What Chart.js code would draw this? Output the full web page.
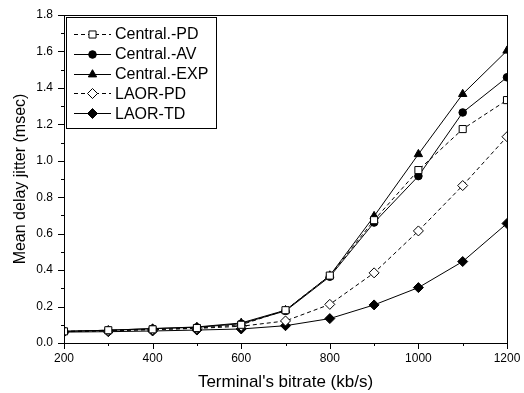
<!DOCTYPE html>
<html>
<head>
<meta charset="utf-8">
<script src="https://cdn.jsdelivr.net/npm/chart.js@4/dist/chart.umd.min.js"></script>
<style>
html,body{margin:0;padding:0;background:#fff;}
#wrap{width:524px;height:393px;position:relative;}
</style>
</head>
<body>
<div id="wrap"><canvas id="c" width="524" height="393"></canvas></div>
<script>
const bitrates = [200, 300, 400, 500, 600, 700, 800, 900, 1000, 1100, 1200];
const centralPD  = [0.064, 0.070, 0.075, 0.082, 0.100, 0.180, 0.370, 0.674, 0.949, 1.174, 1.333];
const centralAV  = [0.064, 0.070, 0.079, 0.086, 0.106, 0.176, 0.364, 0.661, 0.916, 1.265, 1.458];
const centralEXP = [0.064, 0.070, 0.079, 0.088, 0.110, 0.180, 0.370, 0.696, 1.036, 1.366, 1.604];
const laorPD     = [0.062, 0.066, 0.073, 0.080, 0.092, 0.121, 0.212, 0.385, 0.615, 0.864, 1.132];
const laorTD     = [0.060, 0.062, 0.066, 0.071, 0.077, 0.095, 0.134, 0.209, 0.304, 0.447, 0.656];
const xTicks = [200, 400, 600, 800, 1000, 1200];
const yTicks = [0.0, 0.2, 0.4, 0.6, 0.8, 1.0, 1.2, 1.4, 1.6, 1.8];
const seriesNames = ['Central.-PD', 'Central.-AV', 'Central.-EXP', 'LAOR-PD', 'LAOR-TD'];

const FONT = '"Liberation Sans", Arial, sans-serif';

function pts(arr){ return bitrates.map((x,i)=>({x:x, y:arr[i]})); }

const styles = [
  {data: centralPD,  pointStyle:'rect',     radius:5,   fill:'#fff', dash:[4,3]},
  {data: centralAV,  pointStyle:'circle',   radius:3.8, fill:'#000', dash:[]},
  {data: centralEXP, pointStyle:'triangle', radius:4.8, fill:'#000', dash:[]},
  {data: laorPD,     pointStyle:'rectRot',  radius:5,   fill:'#fff', dash:[4,3]},
  {data: laorTD,     pointStyle:'rectRot',  radius:5,   fill:'#000', dash:[]}
];

const datasets = styles.map((s,i)=>({
  label: seriesNames[i],
  data: pts(s.data),
  borderColor:'#000',
  borderWidth:1,
  borderDash:s.dash,
  backgroundColor:s.fill,
  pointStyle:s.pointStyle,
  pointRadius:s.radius,
  pointBorderWidth:1,
  pointBackgroundColor:s.fill,
  pointBorderColor:'#000',
  tension:0
}));

const framePlugin = {
  id:'frame',
  afterDraw(chart){
    const ctx = chart.ctx;
    const a = chart.chartArea;
    const xs = chart.scales.x, ys = chart.scales.y;
    ctx.save();
    ctx.strokeStyle = '#000';
    ctx.lineWidth = 1;
    ctx.setLineDash([]);
    ctx.strokeRect(Math.round(a.left)+0.5, Math.round(a.top)+0.5, Math.round(a.right-a.left), Math.round(a.bottom-a.top));
    ctx.beginPath();
    for (let v=200; v<=1200; v+=100){
      const px = Math.round(xs.getPixelForValue(v))+0.5;
      const len = (v % 200 === 0) ? 6 : 3;
      ctx.moveTo(px, Math.round(a.bottom)); ctx.lineTo(px, Math.round(a.bottom)+len);
    }
    for (let k=0; k<=18; k++){
      const v = k/10;
      const py = Math.round(ys.getPixelForValue(v))+0.5;
      const len = (k % 2 === 0) ? 6 : 3;
      ctx.moveTo(Math.round(a.left), py); ctx.lineTo(Math.round(a.left)-len, py);
    }
    ctx.stroke();

    const lx = 66, ly = 17, lw = 150, lh = 111;
    ctx.fillStyle = '#fff';
    ctx.fillRect(lx, ly, lw, lh);
    ctx.strokeRect(lx+0.5, ly+0.5, lw, lh);
    ctx.font = '16px ' + FONT;
    ctx.textBaseline = 'middle';
    ctx.textAlign = 'left';
    chart.data.datasets.forEach((ds,i)=>{
      const cy = 34 + i*19.8;
      ctx.strokeStyle = '#000';
      ctx.lineWidth = 1;
      ctx.setLineDash(ds.borderDash || []);
      ctx.beginPath();
      ctx.moveTo(74, Math.round(cy)+0.5); ctx.lineTo(111, Math.round(cy)+0.5);
      ctx.stroke();
      ctx.setLineDash([]);
      ctx.fillStyle = ds.pointBackgroundColor;
      Chart.helpers.drawPoint(ctx, {pointStyle: ds.pointStyle, radius: ds.pointRadius, borderWidth:1, rotation:0}, 92.5, Math.round(cy)+0.5);
      ctx.fillStyle = '#000';
      ctx.fillText(ds.label, 115, cy+1);
    });
    ctx.restore();
  }
};

new Chart(document.getElementById('c'), {
  type:'line',
  data:{ datasets: datasets },
  options:{
    responsive:false,
    animation:false,
    devicePixelRatio:1,
    layout:{ padding:{ left:0, right:17, top:15, bottom:0 } },
    plugins:{ legend:{display:false}, tooltip:{enabled:false} },
    scales:{
      x:{
        type:'linear', min:200, max:1200,
        afterBuildTicks(scale){ scale.ticks = xTicks.map(v=>({value:v})); },
        afterFit(scale){ scale.height = 50; scale.paddingLeft = 0; scale.paddingRight = 0; },
        grid:{ display:false, drawTicks:false, tickLength:0 },
        border:{ display:false },
        ticks:{ color:'#000', font:{ family:FONT, size:12 }, padding:8, maxRotation:0, autoSkip:false,
                callback:(v)=>String(v) },
        title:{ display:true, text:"Terminal's bitrate (kb/s)", color:'#000', font:{family:FONT, size:17}, padding:{top:6, bottom:0} }
      },
      y:{
        type:'linear', min:0, max:1.8,
        afterBuildTicks(scale){ scale.ticks = yTicks.map(v=>({value:v})); },
        afterFit(scale){ scale.width = 64; scale.paddingTop = 0; scale.paddingBottom = 0; },
        grid:{ display:false, drawTicks:false, tickLength:0 },
        border:{ display:false },
        ticks:{ color:'#000', font:{ family:FONT, size:12 }, padding:11,
                callback:(v)=>Number(v).toFixed(1) },
        title:{ display:true, text:'Mean delay jitter (msec)', color:'#000', font:{family:FONT, size:16}, padding:{top:11, bottom:4} }
      }
    }
  },
  plugins:[framePlugin]
});
</script>
</body>
</html>
